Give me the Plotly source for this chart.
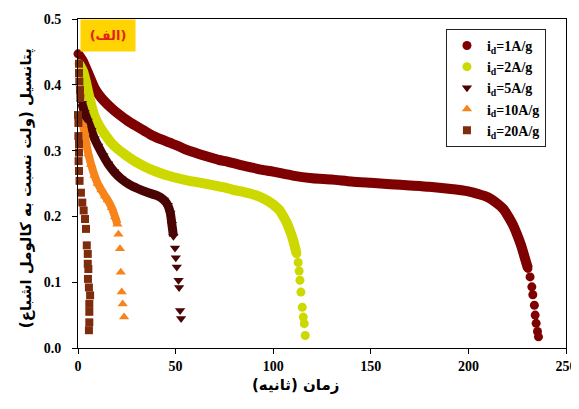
import plotly.graph_objects as go

# ---- data ----
labels = ["i<sub>d</sub>=1A/g", "i<sub>d</sub>=2A/g", "i<sub>d</sub>=5A/g",
          "i<sub>d</sub>=10A/g", "i<sub>d</sub>=20A/g"]

t_1A = [0, 2.5, 5, 8.5, 12, 17, 21, 25.6, 30, 34, 38, 42.7, 47, 51.3, 55, 59.8,
        64, 68.4, 72, 76.9, 82, 88, 94, 100, 110, 120, 130, 140, 150, 160, 170,
        180, 190, 200, 205, 210, 215, 218, 221, 223, 225, 227, 229, 230.5,
        231.6, 232.5, 233.0, 233.8, 234.2, 234.7, 235.4, 235.9]
v_1A = [0.447, 0.436, 0.419, 0.395, 0.380, 0.365, 0.355, 0.345, 0.337, 0.330,
        0.323, 0.317, 0.312, 0.307, 0.302, 0.297, 0.293, 0.289, 0.286, 0.283,
        0.279, 0.275, 0.271, 0.268, 0.262, 0.258, 0.256, 0.253, 0.251, 0.249,
        0.247, 0.245, 0.242, 0.238, 0.234, 0.229, 0.219, 0.211, 0.197, 0.186,
        0.172, 0.156, 0.136, 0.121, 0.108, 0.093, 0.081, 0.065, 0.050, 0.0375,
        0.025, 0.017]

t_2A = [0.5, 2.5, 4, 5.5, 7, 8.5, 11, 13.7, 17, 20.5, 25, 29, 34, 39.3, 45,
        51.3, 57, 63, 68.4, 75, 80, 85, 89, 93, 97, 100, 103, 105, 107, 108.6,
        110, 111.1, 112.0, 112.8, 113.3, 113.7, 114.2, 114.9, 115.4, 115.9, 116.4]
v_2A = [0.432, 0.421, 0.405, 0.385, 0.367, 0.352, 0.337, 0.325, 0.312, 0.302,
        0.292, 0.284, 0.276, 0.269, 0.263, 0.258, 0.254, 0.251, 0.248, 0.244,
        0.240, 0.237, 0.234, 0.230, 0.224, 0.218, 0.210, 0.201, 0.190, 0.178,
        0.166, 0.154, 0.143, 0.130, 0.117, 0.103, 0.085, 0.062, 0.047, 0.037,
        0.019]

t_5A = [2, 3.4, 5, 6.8, 8.5, 10.3, 13, 15.4, 18.5, 22.2, 26, 30.8, 35, 41, 44,
        46, 47.3, 48.1, 48.9, 49.7, 50.1, 50.6, 51.5, 51.8, 52.3, 52.8]
v_5A = [0.372, 0.358, 0.345, 0.331, 0.318, 0.307, 0.292, 0.280, 0.268, 0.257,
        0.249, 0.242, 0.237, 0.231, 0.225, 0.217, 0.205, 0.188, 0.170, 0.152,
        0.137, 0.123, 0.103, 0.092, 0.057, 0.045]

t_10A = [2.3, 3.3, 4.1, 5.3, 6.7, 8.5, 10.1, 12, 13.8, 15.2, 17.3, 19, 20.2,
         20.7, 21.5, 21.9, 22.4, 22.9, 23.6]
v_10A = [0.341, 0.328, 0.313, 0.295, 0.279, 0.262, 0.250, 0.240, 0.231, 0.225,
         0.213, 0.199, 0.188, 0.173, 0.151, 0.115, 0.085, 0.067, 0.047]

t_20A = [0.5, 0.5, 0.7, 1.0, 1.2, 0, 0.2, 0.2, 0.5, 0.5, 0.3, 0.5, 0.8, 1.5,
         2.2, 2.9, 3.6, 4.1, 4.5, 5.0, 5.0, 5.3, 5.1, 5.6, 6.2, 5.8, 5.8, 5.8, 5.6]
v_20A = [0.432, 0.418, 0.405, 0.392, 0.380, 0.354, 0.342, 0.322, 0.310, 0.297,
         0.284, 0.269, 0.254, 0.236, 0.221, 0.209, 0.196, 0.181, 0.156, 0.143,
         0.128, 0.120, 0.105, 0.092, 0.080, 0.067, 0.055, 0.039, 0.027]

x_ticks = [0, 50, 100, 150, 200, 250]
y_ticks = [0.0, 0.1, 0.2, 0.3, 0.4, 0.5]

x_title = "\u200fزمان (ثانیه)\u200f"
y_title = "\u200fپتانسیل (ولت نسبت به کالومل اشباع)\u200f"
panel_label = "\u200f(الف)\u200f"

# ---- styles ----
series = [
    (t_1A, v_1A, labels[0], "#7E0000", "circle", 9, 10, 44),
    (t_2A, v_2A, labels[1], "#CDD800", "circle", 9, 10, 33),
    (t_5A, v_5A, labels[2], "#4A0404", "triangle-down", 9, 9, 19),
    (t_10A, v_10A, labels[3], "#F7841A", "triangle-up", 9, 8, 13),
    (t_20A, v_20A, labels[4], "#7E2C0C", "square", 8, 0, 0),
]

fig = go.Figure()
for xs, ys, name, col, sym, size, band_w, band_n in series:
    if band_n > 1:
        fig.add_trace(go.Scatter(
            x=xs[:band_n], y=ys[:band_n], mode="lines",
            line=dict(color=col, width=band_w, shape="spline", smoothing=0.6),
            showlegend=False, hoverinfo="skip", cliponaxis=False))
    fig.add_trace(go.Scatter(
        x=xs, y=ys, mode="markers", name=name,
        marker=dict(color=col, symbol=sym, size=size, line=dict(width=0)),
        cliponaxis=False))

tickfont = dict(family="Liberation Serif", size=14, color="black", weight="bold")

# the page body adds an 8px offset; the figure is sized to fit the window
fig.update_layout(
    width=571, height=401,
    margin=dict(l=70, r=13, t=11, b=61, autoexpand=False),
    plot_bgcolor="white", paper_bgcolor="white",
    legend=dict(x=0.754, y=0.97, xanchor="left", yanchor="top",
                bordercolor="#222222", borderwidth=1, bgcolor="white",
                font=dict(family="Liberation Serif", size=14, color="black",
                          weight="bold"),
                tracegroupgap=0),
    xaxis=dict(range=[0, 250], tickvals=x_ticks, showline=True,
               linecolor="black", linewidth=1, mirror=True, ticks="outside",
               ticklen=5, tickcolor="black", tickfont=tickfont,
               showgrid=False, zeroline=False),
    yaxis=dict(range=[0, 0.5], tickvals=y_ticks, tickformat=".1f",
               showline=True, linecolor="black", linewidth=1, mirror=True,
               ticks="outside", ticklen=5, tickcolor="black",
               ticklabelstandoff=8,
               tickfont=tickfont, showgrid=False, zeroline=False),
    annotations=[
        dict(text=x_title, xref="paper", yref="paper", x=0.445, y=-0.112,
             xanchor="center", yanchor="middle", showarrow=False,
             font=dict(family="DejaVu Sans", size=15, color="black",
                       weight="bold")),
        dict(text=y_title, xref="paper", yref="paper", x=-0.105, y=0.485,
             xanchor="center", yanchor="middle", showarrow=False,
             textangle=-90,
             font=dict(family="DejaVu Sans", size=15, color="black",
                       weight="bold")),
        dict(text=panel_label, xref="paper", yref="paper", x=0.004, y=1.0,
             xanchor="left", yanchor="top", showarrow=False,
             width=52, height=29, bgcolor="#FFD400",
             font=dict(family="DejaVu Sans", size=13, color="#E3201B",
                       weight="bold")),
    ],
)

fig.write_html("out.html")
